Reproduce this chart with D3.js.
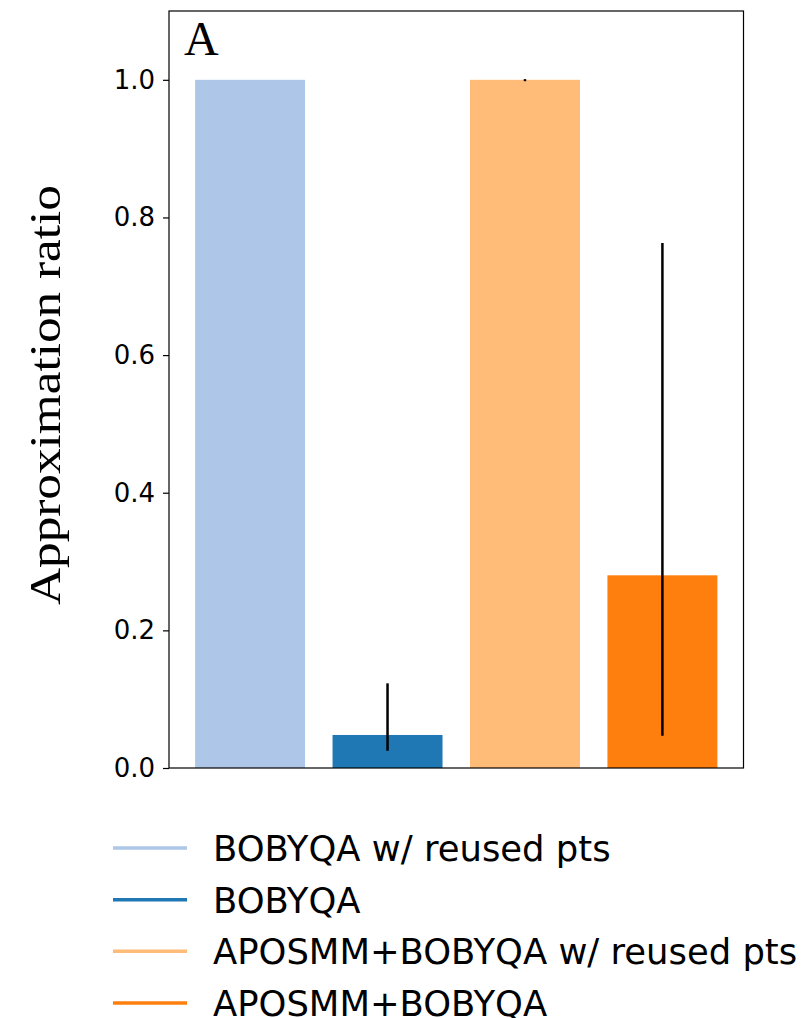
<!DOCTYPE html>
<html>
<head>
<meta charset="utf-8">
<script src="https://cdn.jsdelivr.net/npm/d3@7"></script>
<style>
  html, body { margin: 0; padding: 0; background: #fff; }
  svg { display: block; }
</style>
</head>
<body>
<svg id="chart" width="802" height="1018"></svg>
<script>
// Methods compared, in plotting order
const methods = [
  "BOBYQA w/ reused pts",
  "BOBYQA",
  "APOSMM+BOBYQA w/ reused pts",
  "APOSMM+BOBYQA"
];
const colors = ["#aec7e8", "#1f77b4", "#ffbb78", "#ff7f0e"];

// Mean approximation ratio and error-bar extents
const ratioMean = [1.0, 0.048, 1.0, 0.28];
const ratioLow  = [null, 0.025, 0.998, 0.047];
const ratioHigh = [null, 0.123, 1.001, 0.763];

const yTicks = [0.0, 0.2, 0.4, 0.6, 0.8, 1.0];

const svg = d3.select("#chart");

const plot = { left: 169, right: 743.5, top: 11, bottom: 768 };

// 5% padding either side of the bar extents
const x = d3.scaleLinear().domain([-0.59, methods.length - 0.41]).range([plot.left, plot.right]);
const y = d3.scaleLinear().domain([0, 1.1]).range([plot.bottom, plot.top]);
const barW = 0.8;

// Bars
svg.append("g").selectAll("rect")
  .data(ratioMean)
  .join("rect")
  .attr("x", (d, i) => x(i - barW / 2))
  .attr("width", x(barW) - x(0))
  .attr("y", d => y(d))
  .attr("height", d => y(0) - y(d))
  .attr("fill", (d, i) => colors[i]);

// Error bars
svg.append("g").selectAll("line")
  .data(methods.map((m, i) => ({ i, lo: ratioLow[i], hi: ratioHigh[i] })).filter(d => d.lo !== null))
  .join("line")
  .attr("x1", d => x(d.i))
  .attr("x2", d => x(d.i))
  .attr("y1", d => y(d.lo))
  .attr("y2", d => y(d.hi))
  .attr("stroke", "#000")
  .attr("stroke-width", 2.5);

// Y axis
const yAxis = d3.axisLeft(y)
  .tickValues(yTicks)
  .tickFormat(d3.format(".1f"))
  .tickSize(6)
  .tickPadding(8);

const yg = svg.append("g")
  .attr("transform", `translate(${plot.left},0)`)
  .call(yAxis);
yg.select(".domain").remove();
yg.selectAll(".tick line").attr("stroke", "#000").attr("stroke-width", 1.2);
yg.selectAll(".tick text")
  .attr("fill", "#000")
  .style("font-family", "'DejaVu Sans', sans-serif")
  .style("font-size", "26px");

// Frame
svg.append("rect")
  .attr("x", plot.left)
  .attr("y", plot.top)
  .attr("width", plot.right - plot.left)
  .attr("height", plot.bottom - plot.top)
  .attr("fill", "none")
  .attr("stroke", "#000")
  .attr("stroke-width", 1.2);

// Panel letter
svg.append("text")
  .attr("x", 184)
  .attr("y", 55)
  .style("font-family", "'Liberation Serif', serif")
  .style("font-size", "48px")
  .attr("fill", "#000")
  .text("A");

// Y axis title
svg.append("text")
  .attr("transform", "translate(60,395) rotate(-90)")
  .attr("text-anchor", "middle")
  .attr("textLength", 420)
  .attr("lengthAdjust", "spacingAndGlyphs")
  .style("font-family", "'Liberation Serif', serif")
  .style("font-size", "45px")
  .attr("fill", "#000")
  .text("Approximation ratio");

// Legend
const legend = svg.append("g");
const rowY = d3.scaleLinear().domain([0, 3]).range([848, 1003]);
methods.forEach((m, i) => {
  const g = legend.append("g").attr("transform", `translate(0,${rowY(i)})`);
  g.append("line")
    .attr("x1", 113).attr("x2", 187)
    .attr("y1", 0).attr("y2", 0)
    .attr("stroke", colors[i])
    .attr("stroke-width", 3.5);
  g.append("text")
    .attr("x", 213)
    .attr("y", 13)
    .style("font-family", "'DejaVu Sans', sans-serif")
    .style("font-size", "35.4px")
    .attr("fill", "#000")
    .text(m);
});
</script>
</body>
</html>
